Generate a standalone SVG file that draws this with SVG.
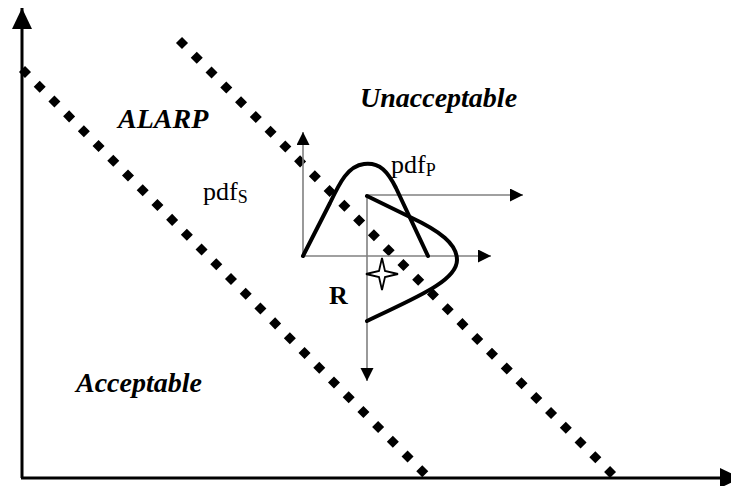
<svg xmlns="http://www.w3.org/2000/svg" width="731" height="486" viewBox="0 0 731 486">
<defs>
<style>
.axis{stroke:#000;stroke-width:3;fill:none}
.sub-axis{stroke:#808080;stroke-width:1.6;fill:none}
.boundary{stroke:#000;stroke-width:8.5;fill:none;stroke-linecap:butt}
.curve{stroke:#000;stroke-width:4;fill:none;stroke-linejoin:round;stroke-linecap:round}
.region{font-family:"Liberation Serif","Times New Roman",serif;font-weight:bold;font-style:italic;font-size:28px;fill:#000}
.lbl{font-family:"Liberation Serif","Times New Roman",serif;font-size:26px;fill:#000}
.subs{font-size:18px}
</style>
<marker id="bigArrow" markerUnits="userSpaceOnUse" markerWidth="22" markerHeight="22" refX="21" refY="10" orient="auto">
<path d="M0,0 L21,10 L0,20 z" fill="#000"/>
</marker>
<marker id="smallArrow" markerUnits="userSpaceOnUse" markerWidth="14" markerHeight="14" refX="13" refY="6.5" orient="auto">
<path d="M0,0 L13,6.5 L0,13 z" fill="#000"/>
</marker>
</defs>
<rect width="731" height="486" fill="#fff"/>
<g id="main-axes">
<line class="axis" x1="22" y1="478" x2="22" y2="8" marker-end="url(#bigArrow)"/>
<line class="axis" x1="21" y1="478" x2="741" y2="478" marker-end="url(#bigArrow)"/>
</g>
<g id="boundaries">
<path class="boundary" d="M22,69 L426,475" stroke-dasharray="8.5 12.36"/>
<path class="boundary" d="M179,40 L613,475" stroke-dasharray="8.5 12.4"/>
</g>
<g id="axes-s">
<line class="sub-axis" x1="303" y1="256" x2="303" y2="132" marker-end="url(#smallArrow)"/>
<line class="sub-axis" x1="303" y1="256" x2="491" y2="256" marker-end="url(#smallArrow)"/>
</g>
<g id="axes-p">
<line class="sub-axis" x1="367" y1="195" x2="523" y2="195" marker-end="url(#smallArrow)"/>
<line class="sub-axis" x1="367" y1="195" x2="367" y2="381" marker-end="url(#smallArrow)"/>
</g>
<g id="pdf-s-curve">
<path class="curve" d="M303,256 L330,203 C340,182 348,166 364,164 C380,162 388,172 396,188 L428,256"/>
</g>
<g id="pdf-p-curve">
<path class="curve" d="M367,196 L410,217 C440,231 457,244 457,260 C457,282 410,300 367,321"/>
</g>
<g id="point">
<path d="M382,258 L385,271 L398,274 L385,277 L382,290 L379,277 L366,274 L379,271 z" fill="#fff" stroke="#000" stroke-width="1.8" stroke-linejoin="miter"/>
</g>
<g id="labels">
<text class="region" x="118" y="128">ALARP</text>
<text class="region" x="360" y="107">Unacceptable</text>
<text class="region" x="76" y="392">Acceptable</text>
<text class="lbl" x="203" y="200">pdf<tspan class="subs" dy="3">S</tspan></text>
<text class="lbl" x="391" y="173">pdf<tspan class="subs" dy="3">P</tspan></text>
<text class="lbl" x="329" y="304" font-weight="bold" font-size="34">R</text>
</g>
</svg>
